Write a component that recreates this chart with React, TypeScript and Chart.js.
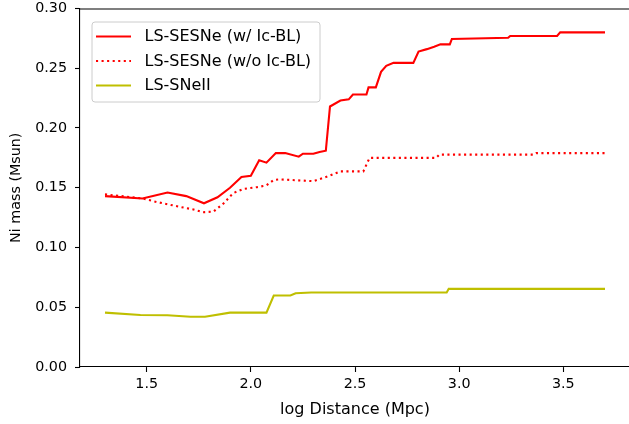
import React, { useEffect, useRef } from "react";
import { Chart, registerables } from "chart.js";

Chart.register(...registerables);

// ---- data ----
const xTickValues = [1.5, 2.0, 2.5, 3.0, 3.5];
const yTickValues = [0, 0.05, 0.1, 0.15, 0.2, 0.25, 0.3];

const seriesLabels = ["LS-SESNe (w/ Ic-BL)", "LS-SESNe (w/o Ic-BL)", "LS-SNeII"];

const sesnWithX = [1.30, 1.48, 1.60, 1.69, 1.775, 1.84, 1.90, 1.955, 2.00, 2.04, 2.075, 2.12, 2.165, 2.23, 2.25, 2.30, 2.33, 2.36, 2.38, 2.43, 2.47, 2.49, 2.555, 2.565, 2.60, 2.625, 2.65, 2.685, 2.78, 2.805, 2.845, 2.88, 2.91, 2.955, 2.965, 3.235, 3.245, 3.47, 3.485, 3.70];
const sesnWithY = [0.143, 0.141, 0.146, 0.143, 0.137, 0.142, 0.150, 0.159, 0.160, 0.173, 0.171, 0.179, 0.179, 0.176, 0.1785, 0.1785, 0.180, 0.181, 0.218, 0.223, 0.224, 0.228, 0.228, 0.234, 0.234, 0.247, 0.252, 0.2545, 0.2545, 0.264, 0.266, 0.268, 0.270, 0.270, 0.2745, 0.2755, 0.277, 0.277, 0.280, 0.280];

const sesnWithoutX = [1.30, 1.48, 1.55, 1.66, 1.72, 1.77, 1.82, 1.87, 1.915, 1.965, 2.03, 2.075, 2.11, 2.14, 2.30, 2.37, 2.43, 2.54, 2.57, 2.89, 2.905, 3.355, 3.37, 3.70];
const sesnWithoutY = [0.1445, 0.141, 0.138, 0.134, 0.132, 0.1295, 0.130, 0.137, 0.1455, 0.149, 0.1505, 0.152, 0.1565, 0.157, 0.1555, 0.1595, 0.1637, 0.1637, 0.175, 0.175, 0.1777, 0.1777, 0.179, 0.179];

const sneIIX = [1.30, 1.47, 1.60, 1.71, 1.78, 1.90, 2.075, 2.11, 2.19, 2.215, 2.29, 2.94, 2.95, 3.70];
const sneIIY = [0.0455, 0.0435, 0.0433, 0.042, 0.042, 0.0455, 0.0455, 0.0598, 0.0598, 0.0617, 0.0623, 0.0623, 0.0654, 0.0654];

const toPoints = (xs: number[], ys: number[]) => xs.map((x, i) => ({ x, y: ys[i] }));

const FAMILY = "'DejaVu Sans', sans-serif";
const TICK_FONT = { family: FAMILY, size: 14.3 };
const X_TITLE_FONT = { family: FAMILY, size: 16 };
const Y_TITLE_FONT = { family: FAMILY, size: 14.3 };
const LEGEND_SIZE = 16;

const framePlugin = {
  id: "frame",
  afterDatasetsDraw(chart: any) {
    const { ctx, chartArea } = chart;
    ctx.save();
    ctx.strokeStyle = "#000";
    ctx.lineWidth = 1.1;
    ctx.beginPath();
    ctx.moveTo(chartArea.left, chartArea.top + 0.5);
    ctx.lineTo(chartArea.right + 5, chartArea.top + 0.5);
    ctx.stroke();
    ctx.restore();
  },
};

const legendPlugin = {
  id: "mplLegend",
  afterDraw(chart: any) {
    const { ctx, chartArea } = chart;
    const x0 = chartArea.left + 12;
    const y0 = chartArea.top + 13.5;
    const w = 228;
    const h = 80;
    const r = 3;
    ctx.save();
    ctx.beginPath();
    ctx.moveTo(x0 + r, y0);
    ctx.lineTo(x0 + w - r, y0);
    ctx.arcTo(x0 + w, y0, x0 + w, y0 + r, r);
    ctx.lineTo(x0 + w, y0 + h - r);
    ctx.arcTo(x0 + w, y0 + h, x0 + w - r, y0 + h, r);
    ctx.lineTo(x0 + r, y0 + h);
    ctx.arcTo(x0, y0 + h, x0, y0 + h - r, r);
    ctx.lineTo(x0, y0 + r);
    ctx.arcTo(x0, y0, x0 + r, y0, r);
    ctx.closePath();
    ctx.fillStyle = "rgba(255,255,255,0.8)";
    ctx.fill();
    ctx.strokeStyle = "#cccccc";
    ctx.lineWidth = 1;
    ctx.stroke();

    chart.data.datasets.forEach((ds: any, i: number) => {
      const cy = y0 + 14.5 + i * 24.5;
      ctx.beginPath();
      ctx.strokeStyle = ds.borderColor;
      ctx.lineWidth = ds.borderWidth;
      ctx.setLineDash(ds.borderDash || []);
      ctx.lineCap = "butt";
      ctx.moveTo(x0 + 4, cy);
      ctx.lineTo(x0 + 39, cy);
      ctx.stroke();
      ctx.setLineDash([]);
      ctx.fillStyle = "#000";
      ctx.font = `${LEGEND_SIZE}px ${FAMILY}`;
      ctx.textBaseline = "middle";
      ctx.textAlign = "left";
      ctx.fillText(ds.label, x0 + 52.5, cy + 0.5);
    });
    ctx.restore();
  },
};

export default function App() {
  const canvasRef = useRef<HTMLCanvasElement | null>(null);

  useEffect(() => {
    if (!canvasRef.current) return;
    const chart = new Chart(canvasRef.current, {
      type: "line",
      data: {
        datasets: [
          {
            label: seriesLabels[0],
            data: toPoints(sesnWithX, sesnWithY),
            borderColor: "#ff0000",
            borderWidth: 2.1,
            pointRadius: 0,
            tension: 0,
            fill: false,
          },
          {
            label: seriesLabels[1],
            data: toPoints(sesnWithoutX, sesnWithoutY),
            borderColor: "#ff0000",
            borderWidth: 2.1,
            borderDash: [2.1, 3.45],
            borderCapStyle: "butt",
            pointRadius: 0,
            tension: 0,
            fill: false,
          },
          {
            label: seriesLabels[2],
            data: toPoints(sneIIX, sneIIY),
            borderColor: "#bfbf00",
            borderWidth: 2.1,
            pointRadius: 0,
            tension: 0,
            fill: false,
          },
        ],
      },
      options: {
        animation: false,
        responsive: false,
        devicePixelRatio: 1,
        parsing: false as any,
        layout: { padding: { left: 0, top: 8.5, right: 10, bottom: 0 } },
        plugins: {
          legend: { display: false },
          tooltip: { enabled: false },
        },
        scales: {
          x: {
            type: "linear",
            min: 1.18,
            max: 3.82,
            afterBuildTicks: (axis: any) => {
              axis.ticks = xTickValues.map((v) => ({ value: v }));
            },
            afterFit: (scale: any) => {
              scale.height = 57;
              scale.paddingLeft = 0;
              scale.paddingRight = 0;
            },
            grid: {
              display: true,
              drawOnChartArea: false,
              drawTicks: true,
              tickLength: 5,
              tickWidth: 1.1,
              tickColor: "#000",
            },
            border: { display: true, color: "#000", width: 1.1 },
            ticks: {
              color: "#000",
              font: TICK_FONT,
              padding: 4,
              maxRotation: 0,
              autoSkip: false,
              callback: (v: any) => Number(v).toFixed(1),
            },
            title: {
              display: true,
              text: "log Distance (Mpc)",
              color: "#000",
              font: X_TITLE_FONT,
              padding: { top: 0, bottom: 4.5 },
            },
          },
          y: {
            type: "linear",
            min: 0,
            max: 0.3,
            afterBuildTicks: (axis: any) => {
              axis.ticks = yTickValues.map((v) => ({ value: v }));
            },
            afterFit: (scale: any) => {
              scale.width = 80;
              scale.paddingTop = 0;
              scale.paddingBottom = 0;
            },
            grid: {
              display: true,
              drawOnChartArea: false,
              drawTicks: true,
              tickLength: 5,
              tickWidth: 1.1,
              tickColor: "#000",
            },
            border: { display: true, color: "#000", width: 1.1 },
            ticks: {
              color: "#000",
              font: TICK_FONT,
              padding: 8,
              autoSkip: false,
              callback: (v: any) => Number(v).toFixed(2),
            },
            title: {
              display: true,
              text: "Ni mass (Msun)",
              color: "#000",
              font: Y_TITLE_FONT,
              padding: { top: 8, bottom: 0 },
            },
          },
        },
      },
      plugins: [framePlugin, legendPlugin],
    } as any);
    return () => chart.destroy();
  }, []);

  return (
    <div
      style={{
        position: "fixed",
        left: 0,
        top: 0,
        width: 629,
        height: 424,
        overflow: "hidden",
        background: "#fff",
      }}
    >
      <canvas ref={canvasRef} width={640} height={424} style={{ display: "block" }} />
    </div>
  );
}
